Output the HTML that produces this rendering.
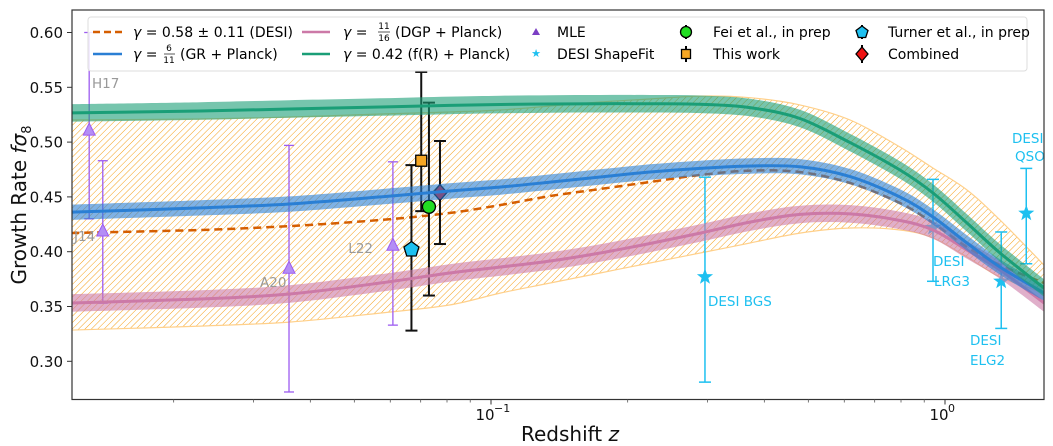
<!DOCTYPE html>
<html><head><meta charset="utf-8"><style>
html,body{margin:0;padding:0;background:#fff;}
svg{display:block;font-family:"DejaVu Sans","Liberation Sans",sans-serif;}
</style></head><body>
<svg id="chart" width="1053" height="446" viewBox="0 0 1053 446" xmlns="http://www.w3.org/2000/svg">
<defs>
<clipPath id="plotclip"><rect x="72" y="10" width="972" height="389.5"/></clipPath>
<pattern id="hatch" patternUnits="userSpaceOnUse" width="4.5" height="4.5" patternTransform="rotate(45)">
<line x1="0" y1="0" x2="0" y2="4.5" stroke="#f5a01a" stroke-width="1"/>
</pattern>
</defs>
<g id="hatchLayer" clip-path="url(#plotclip)"></g>
<g id="pointsLayer" clip-path="url(#plotclip)"></g>
<g id="bandLayer" clip-path="url(#plotclip)"></g>
<g id="labelLayer"></g>
<rect x="72" y="10" width="972" height="389.5" fill="none" stroke="#333" stroke-width="1.2"/>
<g id="axisLayer"></g>
<text x="26" y="205" font-size="20" text-anchor="middle" transform="rotate(-90 26 205)" fill="#111">Growth Rate <tspan font-style="italic">fσ</tspan><tspan font-size="13" dy="5">8</tspan></text>
<text x="570" y="441" font-size="20" text-anchor="middle" fill="#111">Redshift <tspan font-style="italic">z</tspan></text>
<g id="legend">
<rect x="88" y="17" width="939" height="54" rx="3" fill="#fff" fill-opacity="0.85" stroke="#ddd"/>
<g>
<line x1="93" y1="32" x2="122" y2="32" stroke="#d55e00" stroke-width="2.5" stroke-dasharray="7,4"/>
<text x="133" y="37" font-size="14"><tspan font-style="italic">γ</tspan> = 0.58 ± 0.11 (DESI)</text></g>
<g>
<line x1="93" y1="54" x2="122" y2="54" stroke="#2a7fd4" stroke-width="2.5"/>
<text x="133" y="59" font-size="14"><tspan font-style="italic">γ</tspan> =</text>
<text x="169" y="51" font-size="9" text-anchor="middle">6</text>
<line x1="164" y1="54" x2="175" y2="54" stroke="#111" stroke-width="0.7"/>
<text x="169" y="63" font-size="9" text-anchor="middle">11</text>
<text x="180" y="59" font-size="14">(GR + Planck)</text></g>
<g>
<line x1="302" y1="32" x2="330" y2="32" stroke="#cc79a7" stroke-width="2.5"/>
<text x="343" y="37" font-size="14"><tspan font-style="italic">γ</tspan> =</text>
<text x="384" y="29" font-size="9" text-anchor="middle">11</text>
<line x1="378" y1="32" x2="390" y2="32" stroke="#111" stroke-width="0.7"/>
<text x="384" y="41" font-size="9" text-anchor="middle">16</text>
<text x="395" y="37" font-size="14">(DGP + Planck)</text></g>
<g>
<line x1="302" y1="54" x2="330" y2="54" stroke="#1a9e77" stroke-width="2.5"/>
<text x="343" y="59" font-size="14"><tspan font-style="italic">γ</tspan> = 0.42 (f(R) + Planck)</text></g>
<g>
<polygon points="536,28 540,35 532,35" fill="#7b3fc4"/>
<text x="557" y="37" font-size="14">MLE</text></g>
<g>
<text x="536" y="57" font-size="11" text-anchor="middle" fill="#1ec0f0">★</text>
<text x="557" y="59" font-size="14">DESI ShapeFit</text></g>
<g>
<line x1="686" y1="25" x2="686" y2="39" stroke="#000" stroke-width="2"/>
<circle cx="686" cy="32" r="5.5" fill="#22dd22" stroke="#000" stroke-width="1.3"/>
<text x="713" y="37" font-size="14">Fei et al., in prep</text></g>
<g>
<line x1="686" y1="46" x2="686" y2="62" stroke="#000" stroke-width="2"/>
<rect x="681.5" y="49.5" width="9" height="9" fill="#f5a623" stroke="#000" stroke-width="1.3"/>
<text x="713" y="59" font-size="14">This work</text></g>
<g>
<line x1="862" y1="25" x2="862" y2="39" stroke="#000" stroke-width="2"/>
<polygon points="862,26 868,30.5 865.7,37.5 858.3,37.5 856,30.5" fill="#1ec0f0" stroke="#000" stroke-width="1.3"/>
<text x="888" y="37" font-size="14">Turner et al., in prep</text></g>
<g>
<line x1="862" y1="45" x2="862" y2="63" stroke="#000" stroke-width="2"/>
<polygon points="862,47 868,54 862,61 856,54" fill="#ee1111" stroke="#000" stroke-width="1.3"/>
<text x="888" y="59" font-size="14">Combined</text></g>
</g>
</svg>
<script>
// ---- data ----
const zGrid = [0.0119,0.0229,0.036,0.057,0.081,0.105,0.135,0.174,0.224,0.289,0.372,0.479,0.618,0.796,0.941,1.118,1.322,1.652];
const grVals = [0.436,0.440,0.4435,0.450,0.4554,0.459,0.4635,0.4682,0.4727,0.4760,0.4782,0.4775,0.4685,0.4499,0.4317,0.4079,0.386,0.3623];
const frVals = [0.5266,0.5284,0.5302,0.532,0.5335,0.5343,0.5348,0.5350,0.5350,0.5345,0.5315,0.5215,0.4995,0.4745,0.4536,0.4262,0.3988,0.3669];
const dgpVals = [0.3532,0.3568,0.3614,0.3714,0.3806,0.386,0.3915,0.3988,0.4075,0.4170,0.4270,0.4340,0.4345,0.4285,0.4198,0.4015,0.3833,0.3532];
const desiVals = [0.4171,0.4198,0.4234,0.4289,0.4353,0.4426,0.4508,0.4572,0.4636,0.4700,0.4740,0.4727,0.4627,0.4444,0.4262,0.4043,0.3878,0.3714];
const desiUpper = [0.5202,0.5211,0.5229,0.5256,0.5275,0.5293,0.5329,0.5366,0.5393,0.5420,0.5405,0.5339,0.5202,0.4955,0.4763,0.4563,0.4289,0.3878];
const desiLower = [0.3285,0.3321,0.3358,0.344,0.3514,0.3623,0.3714,0.3806,0.3897,0.3988,0.4079,0.417,0.4216,0.4198,0.4125,0.3952,0.3769,0.3623];
const bandHalf = [0.007, 0.008, 0.008]; // GR, f(R), DGP

const mleNames = ["H17","J14","A20","L22"];
const mleZ = [0.01303,0.01396,0.0359,0.0608];
const mleF = [0.510,0.418,0.384,0.405];
const mleLo = [0.430,0.353,0.272,0.333];
const mleHi = [0.600,0.483,0.497,0.482];

const desiNames = ["BGS","LRG3","ELG2","QSO"];
const desiZ = [0.296,0.941,1.33,1.51];
const desiF = [0.377,0.422,0.373,0.435];
const desiLo = [0.281,0.373,0.330,0.389];
const desiHi = [0.468,0.466,0.418,0.476];

const ptNames = ["turner","this-work","fei","combined"];
const ptZ = [0.0668,0.0702,0.0730,0.0772];
const ptF = [0.402,0.483,0.441,0.454];
const ptLo = [0.328,0.437,0.360,0.407];
const ptHi = [0.479,0.564,0.536,0.501];

const yTicks = [0.30,0.35,0.40,0.45,0.50,0.55,0.60];
const yTickLabels = ["0.30","0.35","0.40","0.45","0.50","0.55","0.60"];
const xMajor = [0.1,1];
const xMajorLabels = ["10","10"];
const xMajorExp = ["−1","0"];

// ---- axes ----
function X(z){ return 491 + (Math.log10(z)+1)*454; }
function Y(v){ return 32.5 + (0.6 - v)*1096; }
const NS="http://www.w3.org/2000/svg";
function mk(tag, attrs, parent){ const e=document.createElementNS(NS,tag); for(const k in attrs) e.setAttribute(k,attrs[k]); parent.appendChild(e); return e; }
function smooth(pts){
  let d="M"+pts[0][0].toFixed(1)+","+pts[0][1].toFixed(1);
  for(let i=0;i<pts.length-1;i++){
    const p0=pts[Math.max(0,i-1)],p1=pts[i],p2=pts[i+1],p3=pts[Math.min(pts.length-1,i+2)];
    const c1=[p1[0]+(p2[0]-p0[0])/6,p1[1]+(p2[1]-p0[1])/6];
    const c2=[p2[0]-(p3[0]-p1[0])/6,p2[1]-(p3[1]-p1[1])/6];
    d+="C"+c1[0].toFixed(1)+","+c1[1].toFixed(1)+" "+c2[0].toFixed(1)+","+c2[1].toFixed(1)+" "+p2[0].toFixed(1)+","+p2[1].toFixed(1);
  }
  return d;
}
function ptsOf(vals, off){ return zGrid.map((z,i)=>[X(z),Y(vals[i]+off)]); }
function bandPath(upper, lower){
  const up=upper, lo=lower.slice().reverse();
  return smooth(up)+" L"+lo[0][0].toFixed(1)+","+lo[0][1].toFixed(1)+smooth(lo).replace(/^M[^C]*/,"")+"Z";
}

const hatchL=document.getElementById("hatchLayer");
const ptsL=document.getElementById("pointsLayer");
const bandL=document.getElementById("bandLayer");
const labL=document.getElementById("labelLayer");
const axL=document.getElementById("axisLayer");

// hatched DESI band
const up=zGrid.map((z,i)=>[X(z),Y(desiUpper[i])]);
const lo=zGrid.map((z,i)=>[X(z),Y(desiLower[i])]);
let hb=mk("path",{d:bandPath(up,lo),fill:"url(#hatch)",stroke:"#ffd08a","stroke-width":"1.2"},hatchL);


let dl=mk("path",{d:smooth(ptsOf(desiVals,0)),fill:"none",stroke:"#d55e00","stroke-width":"2.5","stroke-dasharray":"8,5"},hatchL);



function errbar(x,yl,yh,color,w,cap,parent,name){
  const g=mk("g",{},parent);
  
  
  mk("line",{x1:x,x2:x,y1:yl,y2:yh,stroke:color,"stroke-width":w},g);
  mk("line",{x1:x-cap,x2:x+cap,y1:yl,y2:yl,stroke:color,"stroke-width":w},g);
  mk("line",{x1:x-cap,x2:x+cap,y1:yh,y2:yh,stroke:color,"stroke-width":w},g);
  return g;
}
// MLE points
mleZ.forEach((z,i)=>{
  const x=X(z), y=Y(mleF[i]);
  const g=errbar(x,Y(mleLo[i]),Y(mleHi[i]),"#9d5cf0",1.3,5,ptsL,"mle-point-"+mleNames[i].toLowerCase());
  mk("polygon",{points:`${x},${y-8} ${x+6},${y+4} ${x-6},${y+4}`,fill:"#b48ef5",stroke:"#9d5cf0","stroke-width":"1"},g);
});
// DESI ShapeFit
desiZ.forEach((z,i)=>{
  const x=X(z), y=Y(desiF[i]);
  const g=errbar(x,Y(desiLo[i]),Y(desiHi[i]),"#1ec0f0",1.5,6,ptsL,"desi-point-"+desiNames[i].toLowerCase());
  let s="";
  for(let k=0;k<10;k++){const r=k%2?3.5:8.5, a=-Math.PI/2+k*Math.PI/5; s+=(x+r*Math.cos(a)).toFixed(1)+","+(y+r*Math.sin(a)).toFixed(1)+" ";}
  mk("polygon",{points:s,fill:"#1ec0f0"},g);
});
// black error-bar points
const ptFill=["#1ec0f0","#f5a623","#22dd22","#ee1111"];
ptZ.forEach((z,i)=>{
  const x=X(z), y=Y(ptF[i]);
  const g=errbar(x,Y(ptLo[i]),Y(ptHi[i]),"#111",2,6,ptsL,"point-"+ptNames[i]);
  if(i===0) mk("polygon",{points:`${x},${y-8} ${x+7.5},${y-2.5} ${x+4.7},${y+6.5} ${x-4.7},${y+6.5} ${x-7.5},${y-2.5}`,fill:ptFill[i],stroke:"#000","stroke-width":"1.3"},g);
  if(i===1) mk("rect",{x:x-5.5,y:y-5.5,width:11,height:11,fill:ptFill[i],stroke:"#000","stroke-width":"1.3"},g);
  if(i===2) mk("circle",{cx:x,cy:y,r:6.5,fill:ptFill[i],stroke:"#000","stroke-width":"1.3"},g);
  if(i===3) mk("polygon",{points:`${x},${y-8} ${x+7},${y} ${x},${y+8} ${x-7},${y}`,fill:ptFill[i],stroke:"#000","stroke-width":"1.3"},g);
});

// model bands
const models=[["dgp",dgpVals,"#cc79a7",2],["gr",grVals,"#2a7fd4",0],["fr",frVals,"#1a9e77",1]];
models.forEach(m=>{
  const h=bandHalf[m[3]];
  const b=mk("path",{d:bandPath(ptsOf(m[1],h),ptsOf(m[1],-h)),fill:m[2],"fill-opacity":"0.6"},bandL);
  
  
  const l=mk("path",{d:smooth(ptsOf(m[1],0)),fill:"none",stroke:m[2],"stroke-width":"3"},bandL);
  
  
});

// text labels
function txt(x,y,s,color,anchor,name){
  const t=mk("text",{x:x,y:y,"font-size":"13.5",fill:color,"text-anchor":anchor||"start"},labL);
  t.textContent=s;
  
  
}
txt(92,88,"H17","#999","start","label-h17");
txt(74,241,"J14","#999","start","label-j14");
txt(260,287,"A20","#999","start","label-a20");
txt(373,253,"L22","#999","end","label-l22");
txt(708,306,"DESI BGS","#1ec0f0","start","label-desi-bgs");
txt(933,266,"DESI","#1ec0f0","start","label-desi-lrg3");
txt(934,286,"LRG3","#1ec0f0","start","label-desi-lrg3-b");
txt(970,345,"DESI","#1ec0f0","start","label-desi-elg2");
txt(970,365,"ELG2","#1ec0f0","start","label-desi-elg2-b");
txt(1012,143,"DESI","#1ec0f0","start","label-desi-qso");
txt(1015,161,"QSO","#1ec0f0","start","label-desi-qso-b");

// y ticks
yTicks.forEach((v,i)=>{
  const y=Y(v);
  const tk=mk("line",{x1:67,x2:72,y1:y,y2:y,stroke:"#333","stroke-width":"1"},axL);
  
  
  const t=mk("text",{x:63,y:y+5.5,"font-size":"15","text-anchor":"end",fill:"#111"},axL);
  t.textContent=yTickLabels[i];
  
  
});
// x ticks
xMajor.forEach((z,i)=>{
  const x=X(z);
  const tk=mk("line",{x1:x,x2:x,y1:399.5,y2:404.5,stroke:"#333","stroke-width":"1"},axL);
  
  
  const t=mk("text",{x:x-6,y:420,"font-size":"15","text-anchor":"middle",fill:"#111"},axL);
  t.textContent=xMajorLabels[i];
  
  
  const e=mk("text",{x:x+3,y:412,"font-size":"11","text-anchor":"start",fill:"#111"},axL);
  e.textContent=xMajorExp[i];
  
  
});
for(let d=-2; d<=0; d++){
  for(let k=2;k<=9;k++){
    const z=k*Math.pow(10,d), x=X(z);
    if(x<72||x>1044) continue;
    const tk=mk("line",{x1:x,x2:x,y1:399.5,y2:402.5,stroke:"#555","stroke-width":"0.8"},axL);
    
    
  }
}
</script>
</body></html>
